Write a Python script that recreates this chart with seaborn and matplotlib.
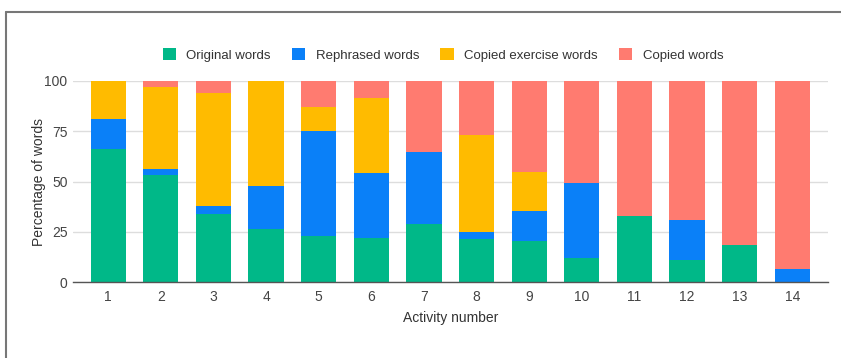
import matplotlib
matplotlib.use("Agg")
import matplotlib.pyplot as plt
from matplotlib.patches import Patch
from matplotlib.lines import Line2D
import numpy as np
import pandas as pd
import seaborn as sns

# values (percent of words per activity)
activities = [str(i) for i in range(1, 15)]
original = [66, 53.3, 33.7, 26.2, 22.9, 22.1, 29.1, 21.3, 20.6, 11.8, 32.7, 11.1, 18.3, 0]
rephrased = [15, 3, 4.2, 21.6, 52.3, 32.1, 35.5, 3.8, 14.6, 37.7, 0, 19.8, 0, 6.3]
copied_exercise = [19, 40.7, 56, 52.2, 11.7, 37.5, 0, 48.2, 19.6, 0, 0, 0, 0, 0]
copied = [0, 3, 6.1, 0, 13.1, 8.3, 35.4, 26.7, 45.2, 50.5, 67.3, 69.1, 81.7, 93.7]

series_names = ["Original words", "Rephrased words", "Copied exercise words", "Copied words"]
colors = ["#00b888", "#0a80f8", "#ffbb00", "#ff7b70"]

df = pd.DataFrame({"activity": activities,
                   "Original words": original,
                   "Rephrased words": rephrased,
                   "Copied exercise words": copied_exercise,
                   "Copied words": copied})

sns.set_style("white")
plt.rcParams["font.family"] = ["Liberation Sans", "DejaVu Sans"]

fig = plt.figure(figsize=(8.41, 3.58), dpi=100)
ax = fig.add_axes([73 / 841, 1 - 282 / 358, (828 - 73) / 841, (282 - 81) / 358])

bottom = np.zeros(len(activities))
for name, col in zip(series_names, colors):
    sns.barplot(data=df, x="activity", y=name, order=activities, color=col,
                bottom=bottom, width=0.67, saturation=1, ax=ax, zorder=3,
                edgecolor="none", linewidth=0)
    bottom = bottom + df[name].values

ax.set_ylim(0, 100)
ax.set_xlim(-0.67, 13.68)
ax.set_yticks([0, 25, 50, 75, 100])
ax.yaxis.grid(True, color="#dddddd", linewidth=1, zorder=0)
ax.xaxis.grid(False)
for s in ["top", "right", "left"]:
    ax.spines[s].set_visible(False)
ax.spines["bottom"].set_color("#555555")
ax.spines["bottom"].set_linewidth(1)
ax.spines["bottom"].set_zorder(4)
ax.tick_params(axis="x", length=0, labelsize=10, labelcolor="#444444", pad=6)
ax.tick_params(axis="y", length=0, labelsize=10, labelcolor="#444444", pad=4)
ax.set_xlabel("Activity number", fontsize=10, color="#333333", labelpad=5)
ax.set_ylabel("Percentage of words", fontsize=10, color="#333333", labelpad=-1)

handles = [Patch(facecolor=c, edgecolor="none") for c in colors]
fig.legend(handles, series_names, loc="center", bbox_to_anchor=(443 / 841, 1 - 55 / 358),
           ncol=4, frameon=False, fontsize=9.5, handlelength=1.0, handleheight=1.0,
           handletextpad=0.8, columnspacing=1.6, labelcolor="#333333")

# frame lines of the cropped screenshot
fig.add_artist(Line2D([6 / 841, 1], [1 - 12 / 358, 1 - 12 / 358], color="#777777", linewidth=1.5))
fig.add_artist(Line2D([6 / 841, 6 / 841], [0, 1 - 12 / 358], color="#777777", linewidth=1.5))

fig.savefig("out.png", dpi=100)
